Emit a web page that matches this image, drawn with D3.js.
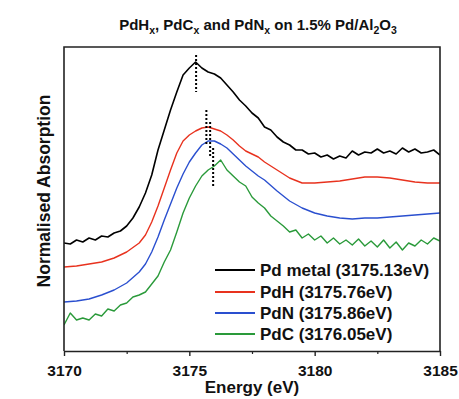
<!DOCTYPE html>
<html><head><meta charset="utf-8">
<script src="https://cdn.jsdelivr.net/npm/d3@7"></script>
<style>body{margin:0;background:#fff;}svg{display:block;font-family:Arial,"Liberation Sans",sans-serif;}</style>
</head><body>
<svg id="chart" width="459" height="399"></svg>
<script>
// ---- data ----
const blackE = d3.range(3170, 3185.001, 0.25);
const pdMetal = [1.08,1.07,1.11,1.09,1.13,1.11,1.15,1.14,1.18,1.20,1.25,1.33,1.44,1.58,1.76,2.01,2.21,2.41,2.59,2.76,2.83,2.89,2.83,2.79,2.77,2.73,2.66,2.59,2.51,2.45,2.38,2.33,2.24,2.21,2.14,2.09,2.06,2.01,2.01,1.97,1.98,1.94,1.96,1.92,1.95,1.93,2.00,1.96,1.99,1.98,2.02,1.98,2.00,1.97,2.03,1.99,2.02,1.98,1.99,2.01,1.96];
const pdhE = [3170,3170.5,3171,3171.5,3172,3172.5,3173,3173.25,3173.5,3173.75,3174,3174.25,3174.5,3174.75,3175,3175.25,3175.5,3175.75,3176,3176.25,3176.5,3176.75,3177,3177.25,3177.5,3177.75,3178,3178.5,3179,3179.5,3180,3180.5,3181,3181.5,3182,3182.5,3183,3183.5,3184,3184.5,3185];
const pdH = [0.84,0.85,0.87,0.89,0.93,0.99,1.08,1.16,1.29,1.45,1.63,1.81,1.98,2.10,2.16,2.20,2.23,2.24,2.22,2.20,2.16,2.11,2.05,2.00,1.97,1.94,1.89,1.81,1.73,1.68,1.68,1.69,1.70,1.72,1.74,1.74,1.73,1.71,1.69,1.68,1.68];
const pdN = [0.49,0.50,0.52,0.56,0.61,0.68,0.79,0.87,0.99,1.14,1.31,1.47,1.63,1.77,1.89,1.98,2.06,2.10,2.10,2.07,2.03,1.97,1.91,1.85,1.80,1.75,1.71,1.60,1.50,1.43,1.38,1.35,1.33,1.32,1.33,1.33,1.34,1.35,1.36,1.37,1.38];
const pdC = [0.26,0.38,0.31,0.33,0.31,0.37,0.35,0.42,0.40,0.46,0.48,0.54,0.56,0.59,0.67,0.75,0.89,1.01,1.19,1.38,1.53,1.65,1.75,1.81,1.85,1.91,1.81,1.75,1.69,1.65,1.54,1.48,1.43,1.35,1.30,1.25,1.19,1.21,1.13,1.17,1.11,1.15,1.08,1.13,1.07,1.11,1.06,1.12,1.05,1.10,1.04,1.11,1.03,1.09,1.01,1.08,1.05,1.11,1.07,1.13,1.10];
const seriesNames = ["Pd metal (3175.13eV)","PdH (3175.76eV)","PdN (3175.86eV)","PdC (3176.05eV)"];
const seriesColors = ["#000000","#e8321e","#2a4fcf","#2a9a3a"];
// dotted edge markers: energy, top value, bottom value
const markerE = [3175.27, 3175.68, 3175.83, 3175.95];
const markerTop = [2.96, 2.41, 2.29, 2.03];
const markerBot = [2.59, 2.06, 1.93, 1.65];
const xTicks = [3170, 3175, 3180, 3185];
const xMinor = [3172.5, 3177.5, 3182.5];

// ---- layout ----
const svg = d3.select("#chart");
const L = 64, R = 440, T = 47, B = 351;
const x = d3.scaleLinear().domain([3170, 3185]).range([L, R]);
const y = d3.scaleLinear().domain([0, 3.04]).range([B, T]);

const series = [
  {e: blackE, v: pdMetal},
  {e: pdhE, v: pdH},
  {e: pdhE, v: pdN},
  {e: blackE, v: pdC}
];
const line = d3.line().x(d => x(d[0])).y(d => y(d[1]));
svg.append("clipPath").attr("id","clip").append("rect").attr("x",L).attr("y",T).attr("width",R-L).attr("height",B-T);
const g = svg.append("g").attr("clip-path","url(#clip)");
[3,2,1,0].forEach(i => {
  const s = series[i];
  g.append("path").datum(s.e.map((e,k)=>[e, s.v[k]]))
    .attr("d", line).attr("fill","none").attr("stroke", seriesColors[i])
    .attr("stroke-width", i===0?1.6:1.4).attr("stroke-linejoin","round");
});
markerE.forEach((e,i) => {
  svg.append("line").attr("x1", x(e)).attr("x2", x(e))
    .attr("y1", y(markerTop[i])).attr("y2", y(markerBot[i]))
    .attr("stroke","#000").attr("stroke-width",2).attr("stroke-dasharray","2,2");
});

// frame
svg.append("path").attr("d", `M${L},${B}V${T}H${R}V${B}`).attr("fill","none").attr("stroke","#222").attr("stroke-width",1.6);
// x axis
const xAxis = d3.axisBottom(x).tickValues(xTicks).tickFormat(d3.format("d")).tickSize(5).tickSizeOuter(0);
const ax = svg.append("g").attr("transform",`translate(0,${B})`).call(xAxis);
ax.select(".domain").attr("stroke","#222").attr("stroke-width",1.6);
ax.selectAll(".tick line").attr("stroke","#222").attr("stroke-width",1.4);
ax.selectAll(".tick text").attr("font-size","15.5px").attr("font-weight","bold").attr("fill","#111").attr("dy","1.1em")
  .attr("font-family","Arial, 'Liberation Sans', sans-serif");
const axm = svg.append("g").attr("transform",`translate(0,${B})`).call(d3.axisBottom(x).tickValues(xMinor).tickSize(3).tickFormat(""));
axm.select(".domain").remove();
axm.selectAll(".tick line").attr("stroke","#222").attr("stroke-width",1.2);

// labels
svg.append("text").attr("x", (L+R)/2).attr("y", 393).attr("text-anchor","middle")
  .attr("font-size","17px").attr("font-weight","bold").attr("fill","#111").text("Energy (eV)");
svg.append("text").attr("transform","translate(50,191) rotate(-90)").attr("text-anchor","middle")
  .attr("font-size","17.5px").attr("font-weight","bold").attr("fill","#111").text("Normalised Absorption");

// title with subscripts
const title = svg.append("text").attr("x", 258).attr("y", 30).attr("text-anchor","middle")
  .attr("font-size","15px").attr("font-weight","bold").attr("fill","#111");
const parts = [["PdH",0],["x",1],[", PdC",0],["x",1],[" and PdN",0],["x",1],[" on 1.5% Pd/Al",0],["2",1],["O",0],["3",1]];
parts.forEach(([t,sub]) => {
  title.append("tspan").attr("font-size", sub?"10.5px":null).attr("baseline-shift", sub?"-4":null).text(t);
});

// legend
const legY = [270, 292, 313, 334];
seriesNames.forEach((n,i) => {
  svg.append("line").attr("x1",215).attr("x2",255).attr("y1",legY[i]).attr("y2",legY[i])
    .attr("stroke",seriesColors[i]).attr("stroke-width",1.8);
  svg.append("text").attr("x",260).attr("y",legY[i]).attr("dy","0.36em")
    .attr("font-size","17px").attr("font-weight","bold").attr("fill","#111").text(n);
});
</script>
</body></html>
